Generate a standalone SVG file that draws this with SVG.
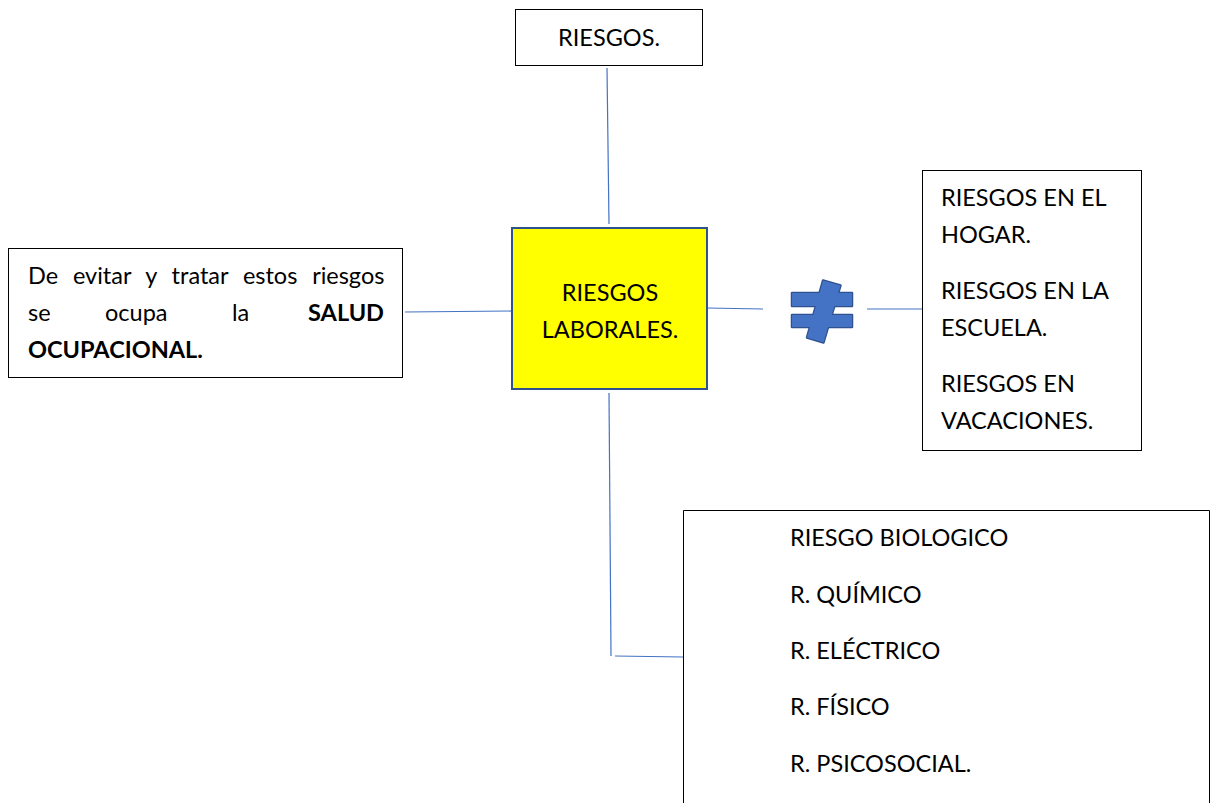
<svg xmlns="http://www.w3.org/2000/svg" width="1212" height="803" viewBox="0 0 1212 803">
<style>
.box{fill:#fff;stroke:#000;stroke-width:1}
.t{font-family:Lato,"Liberation Sans",sans-serif;font-size:23.5px;fill:#000}
.b{font-weight:bold}
.c{stroke:#4472C4;stroke-width:1.2;fill:none}
.ne{fill:#4472C4}
</style>
<rect width="1212" height="803" fill="#fff"/>
<g id="connectors">
<line class="c" x1="607" y1="68" x2="609" y2="224"/>
<line class="c" x1="405" y1="312" x2="512" y2="311"/>
<line class="c" x1="707" y1="308" x2="763" y2="309"/>
<line class="c" x1="867" y1="309" x2="922" y2="309"/>
<polyline class="c" points="609,393 611,656"/>
<line class="c" x1="615" y1="656" x2="683" y2="657"/>
</g>
<g id="riesgos">
<rect class="box" x="515.5" y="9.5" width="187" height="56"/>
<text class="t" x="609" y="46" text-anchor="middle">RIESGOS.</text>
</g>
<g id="laborales">
<rect x="512" y="228" width="195" height="161" fill="#FFFF00" stroke="#2F528F" stroke-width="2"/>
<text class="t" x="610" y="301" text-anchor="middle">RIESGOS</text>
<text class="t" x="610" y="338" text-anchor="middle">LABORALES.</text>
</g>
<g id="salud">
<rect class="box" x="8.5" y="248.5" width="394" height="129"/>
<text class="t" x="28" y="284" word-spacing="8.8">De evitar y tratar estos riesgos</text>
<text class="t" x="28" y="321">se</text>
<text class="t" x="105" y="321">ocupa</text>
<text class="t" x="232" y="321">la</text>
<text class="t b" x="384" y="321" text-anchor="end">SALUD</text>
<text class="t b" x="28" y="358">OCUPACIONAL.</text>
</g>
<g id="noigual">
<g stroke="#2F528F" stroke-width="2.5" stroke-linejoin="round" fill="#2F528F">
<rect x="792" y="293" width="60" height="13"/>
<rect x="792" y="315" width="60" height="12"/>
<polygon points="823,280.5 840.5,285.5 823.5,342.5 807,337.5"/>
</g>
<g class="ne">
<rect x="792" y="293" width="60" height="13"/>
<rect x="792" y="315" width="60" height="12"/>
<polygon points="823,280.5 840.5,285.5 823.5,342.5 807,337.5"/>
</g>
</g>
<g id="otros">
<rect class="box" x="922.5" y="170.5" width="219" height="280"/>
<text class="t" x="941" y="206">RIESGOS EN EL</text>
<text class="t" x="941" y="243">HOGAR.</text>
<text class="t" x="941" y="299">RIESGOS EN LA</text>
<text class="t" x="941" y="336">ESCUELA.</text>
<text class="t" x="941" y="392">RIESGOS EN</text>
<text class="t" x="941" y="429">VACACIONES.</text>
</g>
<g id="tipos">
<path class="box" d="M683.5,803 V510.5 H1209.5 V803"/>
<text class="t" x="790" y="546">RIESGO BIOLOGICO</text>
<text class="t" x="790" y="603">R. QUÍMICO</text>
<text class="t" x="790" y="659">R. ELÉCTRICO</text>
<text class="t" x="790" y="715">R. FÍSICO</text>
<text class="t" x="790" y="772">R. PSICOSOCIAL.</text>
</g>
</svg>
